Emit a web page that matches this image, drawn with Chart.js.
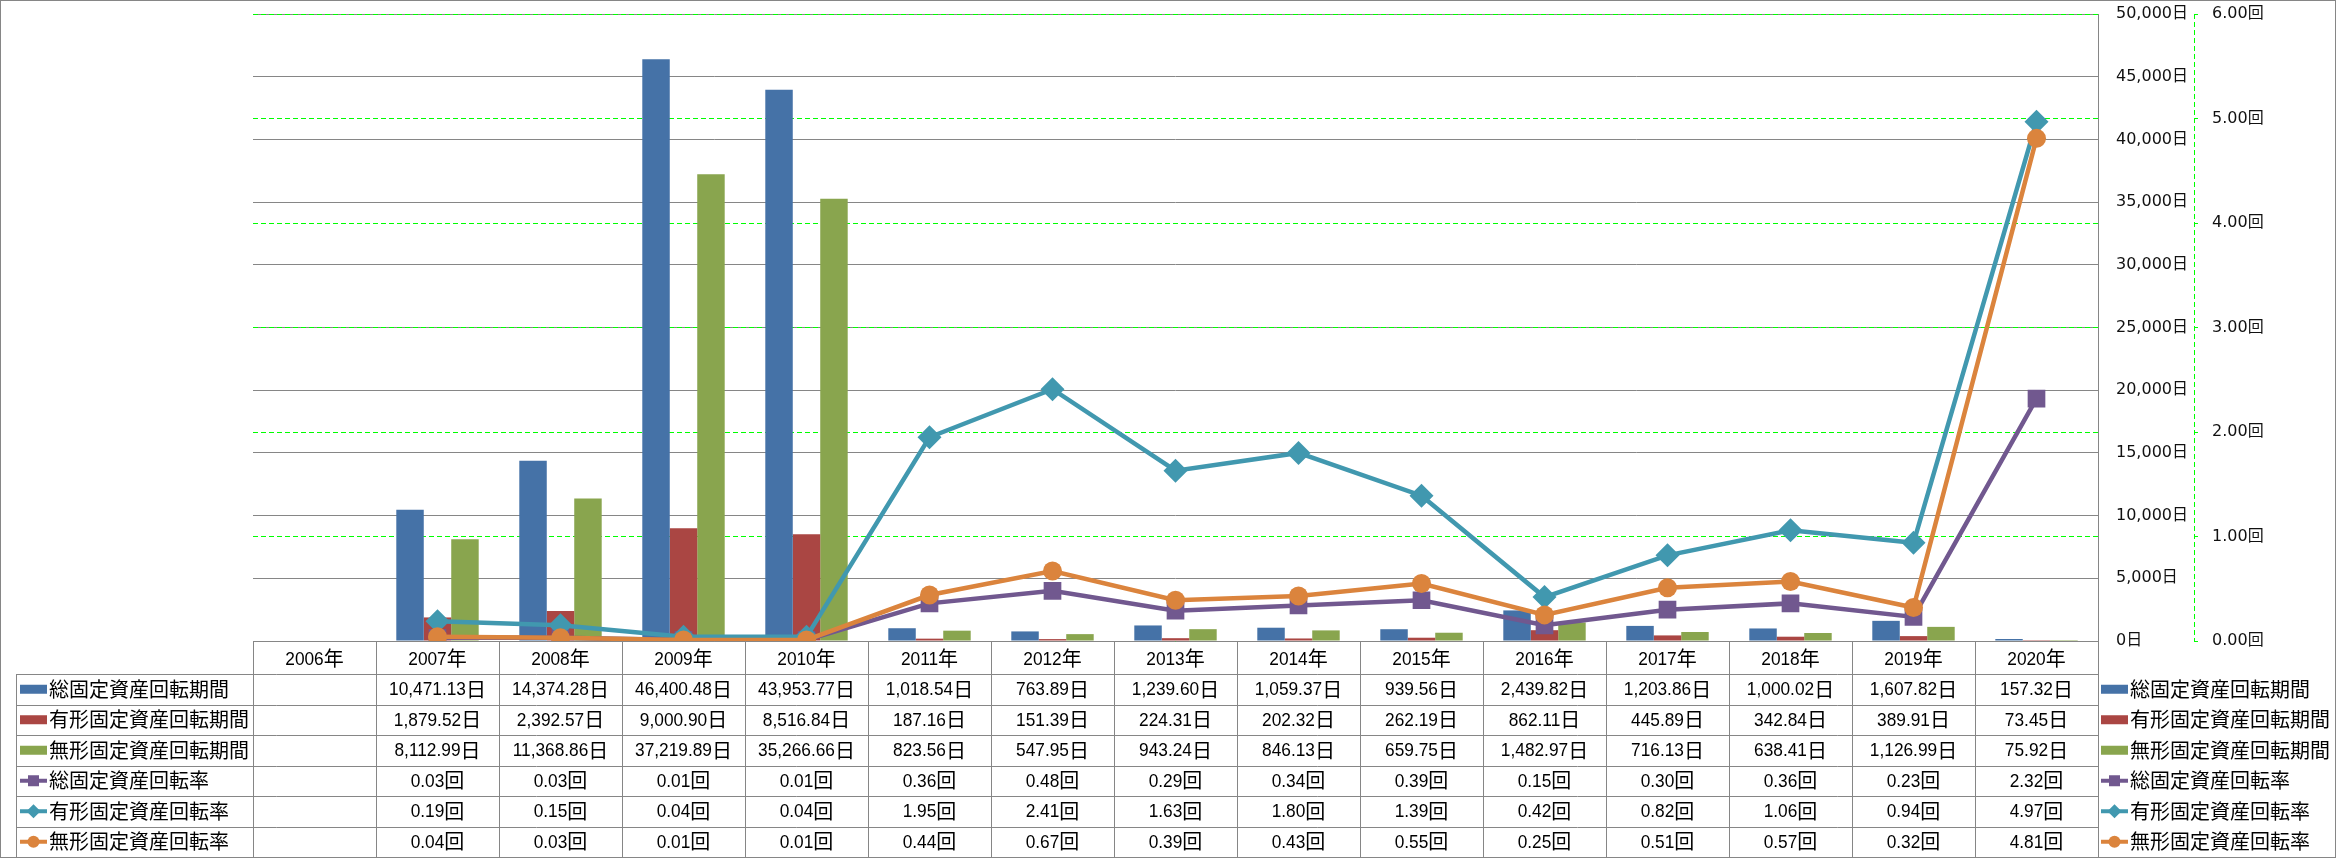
<!DOCTYPE html>
<html>
<head>
<meta charset="utf-8">
<script src="https://cdn.jsdelivr.net/npm/chart.js@4/dist/chart.umd.min.js"></script>
<style>
html,body{margin:0;padding:0;background:#fff;}
#wrap{width:2336px;height:858px;position:relative;}
</style>
</head>
<body>
<div id="wrap"><canvas id="c"></canvas></div>
<script>
const categories = ['2006年','2007年','2008年','2009年','2010年','2011年','2012年','2013年','2014年','2015年','2016年','2017年','2018年','2019年','2020年'];
const totalPeriod = [null,10471.13,14374.28,46400.48,43953.77,1018.54,763.89,1239.60,1059.37,939.56,2439.82,1203.86,1000.02,1607.82,157.32];
const tangiblePeriod = [null,1879.52,2392.57,9000.90,8516.84,187.16,151.39,224.31,202.32,262.19,862.11,445.89,342.84,389.91,73.45];
const intangiblePeriod = [null,8112.99,11368.86,37219.89,35266.66,823.56,547.95,943.24,846.13,659.75,1482.97,716.13,638.41,1126.99,75.92];
const totalRate = [null,0.03,0.03,0.01,0.01,0.36,0.48,0.29,0.34,0.39,0.15,0.30,0.36,0.23,2.32];
const tangibleRate = [null,0.19,0.15,0.04,0.04,1.95,2.41,1.63,1.80,1.39,0.42,0.82,1.06,0.94,4.97];
const intangibleRate = [null,0.04,0.03,0.01,0.01,0.44,0.67,0.39,0.43,0.55,0.25,0.51,0.57,0.32,4.81];
const seriesNames = ['総固定資産回転期間','有形固定資産回転期間','無形固定資産回転期間','総固定資産回転率','有形固定資産回転率','無形固定資産回転率'];
const dayUnit = '日';
const timesUnit = '回';

const C = {blue:'#4572A7', red:'#AA4643', green:'#89A54E', purple:'#71588F', teal:'#4198AF', orange:'#DB843D'};
const GRAY = '#868686';
const NUM_FONT = "19px 'Liberation Sans', sans-serif";
const CJK_FONT = "20px 'Noto Sans CJK JP', sans-serif";
const NUM_SQUEEZE = 0.91;
const AXIS_FONT_FAMILY = "'DejaVu Sans', 'Noto Sans CJK JP', sans-serif";

function fmtNum(v){
  return v.toLocaleString('en-US',{minimumFractionDigits:2, maximumFractionDigits:2});
}

function drawNumUnit(ctx, numStr, unit, cx, cy){
  ctx.save();
  ctx.textBaseline = 'middle';
  ctx.textAlign = 'left';
  ctx.font = NUM_FONT;
  const w1 = ctx.measureText(numStr).width * NUM_SQUEEZE;
  ctx.font = CJK_FONT;
  const w2 = ctx.measureText(unit).width;
  const x0 = cx - (w1 + w2)/2;
  ctx.font = NUM_FONT;
  ctx.fillText(numStr, x0, cy + 1, w1);
  ctx.font = CJK_FONT;
  ctx.fillText(unit, x0 + w1, cy);
  ctx.restore();
}

function drawMarker(ctx, style, x, y, r, color){
  ctx.save();
  ctx.fillStyle = color;
  ctx.beginPath();
  if (style === 'rect'){
    ctx.rect(x - r, y - r, 2*r, 2*r);
  } else if (style === 'rectRot'){
    ctx.moveTo(x - r, y); ctx.lineTo(x, y - r); ctx.lineTo(x + r, y); ctx.lineTo(x, y + r); ctx.closePath();
  } else {
    ctx.arc(x, y, r, 0, Math.PI*2);
  }
  ctx.fill();
  ctx.restore();
}

const legendDefs = [
  {type:'bar', color:C.blue},
  {type:'bar', color:C.red},
  {type:'bar', color:C.green},
  {type:'line', color:C.purple, style:'rect', r:5.5},
  {type:'line', color:C.teal, style:'rectRot', r:7},
  {type:'line', color:C.orange, style:'circle', r:6}
];
const rowValues = [totalPeriod, tangiblePeriod, intangiblePeriod, totalRate, tangibleRate, intangibleRate];
const rowUnits = [dayUnit, dayUnit, dayUnit, timesUnit, timesUnit, timesUnit];

function drawLegendKey(ctx, def, x0, x1, cy){
  if (def.type === 'bar'){
    ctx.fillStyle = def.color;
    ctx.fillRect(x0, cy - 4.5, x1 - x0, 9);
  } else {
    ctx.save();
    ctx.strokeStyle = def.color;
    ctx.lineWidth = 4;
    ctx.beginPath(); ctx.moveTo(x0, cy); ctx.lineTo(x1, cy); ctx.stroke();
    ctx.restore();
    drawMarker(ctx, def.style, (x0 + x1)/2, cy, def.r, def.color);
  }
}

const tablePlugin = {
  id:'dataTable',
  afterDraw(chart){
    const ctx = chart.ctx;
    const xs = chart.scales.x;
    const area = chart.chartArea;
    const n = categories.length;
    const colW = xs.getPixelForValue(1) - xs.getPixelForValue(0);
    const top = area.bottom;
    const headBottom = top + 33;
    const bottom = 857;
    const rowH = (bottom - headBottom) / 6;
    const labelLeft = 16;
    ctx.save();
    ctx.strokeStyle = GRAY;
    ctx.lineWidth = 1;
    ctx.beginPath();
    const line = (x1,y1,x2,y2)=>{ctx.moveTo(x1,y1);ctx.lineTo(x2,y2);};
    line(area.left, Math.round(top)+0.5, area.right, Math.round(top)+0.5);
    for (let r = 0; r <= 6; r++){
      const y = Math.round(headBottom + r*rowH) + 0.5;
      line(labelLeft, y, area.right, y);
    }
    for (let i = 0; i <= n; i++){
      const x = Math.round(xs.getPixelForValue(0) - colW/2 + i*colW) + 0.5;
      line(x, top, x, bottom);
    }
    line(labelLeft + 0.5, headBottom, labelLeft + 0.5, bottom);
    ctx.stroke();

    ctx.fillStyle = '#000';
    for (let i = 0; i < n; i++){
      const lab = categories[i];
      drawNumUnit(ctx, lab.slice(0, -1), lab.slice(-1), xs.getPixelForValue(i), (top + headBottom)/2 + 1);
    }
    for (let r = 0; r < 6; r++){
      const cy = headBottom + r*rowH + rowH/2;
      ctx.fillStyle = '#000';
      for (let i = 0; i < n; i++){
        const v = rowValues[r][i];
        if (v === null || v === undefined) continue;
        drawNumUnit(ctx, fmtNum(v), rowUnits[r], xs.getPixelForValue(i), cy);
      }
      drawLegendKey(ctx, legendDefs[r], 20, 47, cy);
      ctx.fillStyle = '#000';
      ctx.font = CJK_FONT;
      ctx.textAlign = 'left';
      ctx.textBaseline = 'middle';
      ctx.fillText(seriesNames[r], 49, cy);
      drawLegendKey(ctx, legendDefs[r], area.right + 3, area.right + 30, cy);
      ctx.fillStyle = '#000';
      ctx.fillText(seriesNames[r], area.right + 32, cy);
    }
    const y1 = chart.scales.y1;
    ctx.strokeStyle = '#00ff00';
    ctx.setLineDash([5,3]);
    ctx.beginPath();
    ctx.moveTo(Math.round(y1.left)+0.5, area.top);
    ctx.lineTo(Math.round(y1.left)+0.5, area.bottom);
    ctx.stroke();
    ctx.setLineDash([]);
    ctx.strokeStyle = GRAY;
    ctx.strokeRect(0.5, 0.5, chart.width - 1, chart.height - 1);
    ctx.restore();
  }
};

const barCommon = {type:'bar', yAxisID:'y', categoryPercentage:0.67, barPercentage:1.0, order:10, borderWidth:0};
const lineCommon = {type:'line', yAxisID:'y1', borderWidth:4.5, pointBorderWidth:0, tension:0, spanGaps:false};

new Chart(document.getElementById('c'), {
  data:{
    labels: categories,
    datasets:[
      Object.assign({label:seriesNames[0], data:totalPeriod, backgroundColor:C.blue}, barCommon),
      Object.assign({label:seriesNames[1], data:tangiblePeriod, backgroundColor:C.red}, barCommon),
      Object.assign({label:seriesNames[2], data:intangiblePeriod, backgroundColor:C.green}, barCommon),
      Object.assign({label:seriesNames[3], data:totalRate, borderColor:C.purple, backgroundColor:C.purple, pointStyle:'rect', pointRadius:12.5, order:3}, lineCommon),
      Object.assign({label:seriesNames[4], data:tangibleRate, borderColor:C.teal, backgroundColor:C.teal, pointStyle:'rectRot', pointRadius:12, order:2}, lineCommon),
      Object.assign({label:seriesNames[5], data:intangibleRate, borderColor:C.orange, backgroundColor:C.orange, pointStyle:'circle', pointRadius:9.5, order:1}, lineCommon)
    ]
  },
  options:{
    responsive:true,
    maintainAspectRatio:false,
    animation:false,
    devicePixelRatio:1,
    layout:{padding:{left:253, top:14, right:0, bottom:217}},
    plugins:{legend:{display:false}, tooltip:{enabled:false}},
    scales:{
      x:{display:false, offset:true},
      y:{
        position:'right', weight:0, min:0, max:50000,
        ticks:{stepSize:5000, padding:18, color:'#111', font:{family:AXIS_FONT_FAMILY, size:16},
          callback:(v)=>Number(v).toLocaleString('en-US') + dayUnit},
        grid:{color:GRAY, lineWidth:1, drawTicks:false},
        border:{display:true, color:GRAY, width:1, dash:[]},
        afterFit:(s)=>{s.width = 96; s.paddingTop = 0; s.paddingBottom = 0;}
      },
      y1:{
        position:'right', weight:1, min:0, max:6,
        ticks:{stepSize:1, padding:14, color:'#111', font:{family:AXIS_FONT_FAMILY, size:16},
          callback:(v)=>Number(v).toFixed(2) + timesUnit},
        grid:{color:'#00ff00', lineWidth:1, drawTicks:true, tickLength:4, tickColor:'#00ff00'},
        border:{display:false, dash:[5,3]},
        afterFit:(s)=>{s.width = 142; s.paddingTop = 0; s.paddingBottom = 0;}
      }
    }
  },
  plugins:[tablePlugin]
});
</script>
</body>
</html>
